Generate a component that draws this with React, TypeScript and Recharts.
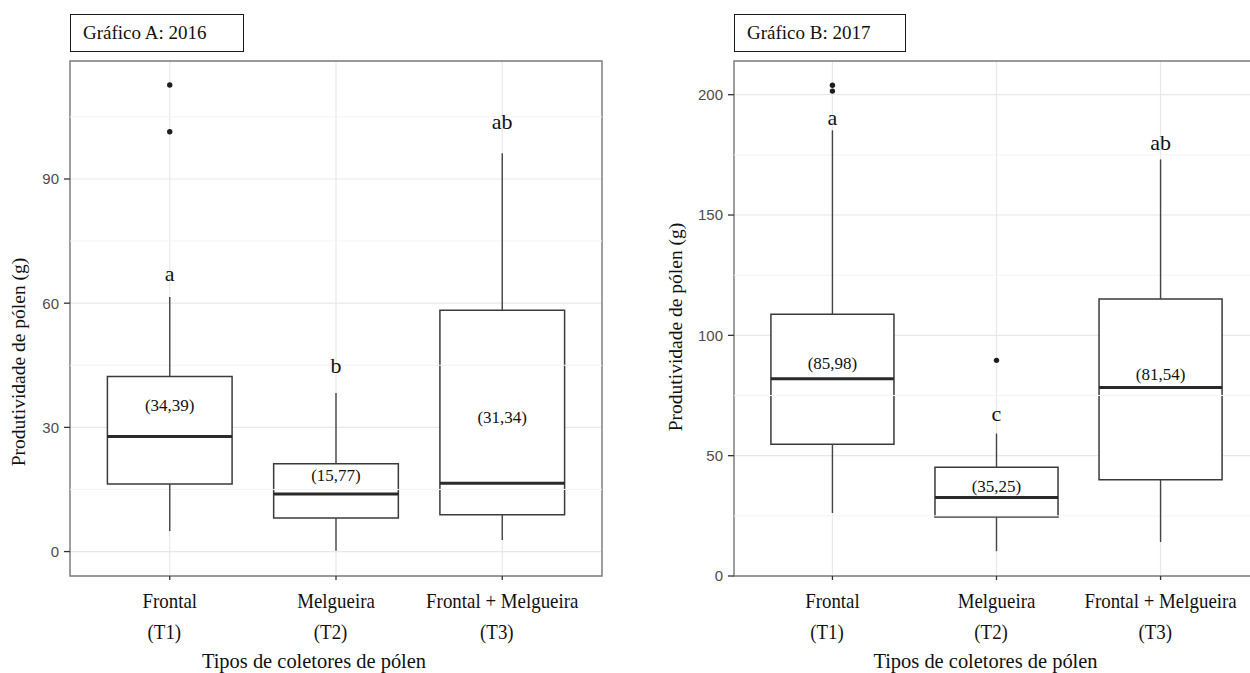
import React from "react";
import {
  ComposedChart,
  XAxis,
  YAxis,
  CartesianGrid,
  ReferenceArea,
  ReferenceLine,
  Scatter,
} from "recharts";

// ---------- shared categories ----------
const categories = ["Frontal", "Melgueira", "Frontal + Melgueira"];
const codes = ["(T1)", "(T2)", "(T3)"];
const catPos = [1, 2, 3];

// ---------- Gráfico A: 2016 ----------
const min2016 = [5.0, 0.2, 2.8];
const q1_2016 = [16.3, 8.1, 8.9];
const med2016 = [27.8, 13.9, 16.5];
const q3_2016 = [42.3, 21.2, 58.3];
const max2016 = [61.5, 38.3, 96.2];
const outCat2016 = [1, 1];
const outVal2016 = [112.7, 101.4];
const mean2016 = ["(34,39)", "(15,77)", "(31,34)"];
const meanY2016 = [35.2, 18.4, 32.5];
const letters2016 = ["a", "b", "ab"];
const letterY2016 = [67.1, 44.9, 103.8];
const ticks2016 = [0, 30, 60, 90];
const minor2016 = [15, 45, 75, 105];

// ---------- Gráfico B: 2017 ----------
const min2017 = [26.2, 10.3, 14.1];
const q1_2017 = [54.7, 24.5, 40.0];
const med2017 = [82.0, 32.6, 78.3];
const q3_2017 = [108.8, 45.2, 115.1];
const max2017 = [185.2, 59.2, 173.1];
const outCat2017 = [1, 1, 2];
const outVal2017 = [203.9, 201.5, 89.6];
const mean2017 = ["(85,98)", "(35,25)", "(81,54)"];
const meanY2017 = [88.2, 37.3, 83.7];
const letters2017 = ["a", "c", "ab"];
const letterY2017 = [190.4, 67.5, 180.3];
const ticks2017 = [0, 50, 100, 150, 200];
const minor2017 = [25, 75, 125, 175];

const SERIF = "'Liberation Serif', 'Times New Roman', serif";
const SANS = "'Liberation Sans', Arial, sans-serif";
const HALF = 0.375;

const XTick = (props: any) => {
  const { x, y, payload } = props;
  const i = Math.round(payload.value) - 1;
  return (
    <g transform={`translate(${x},${y})`}>
      <g transform="scale(0.9,1)">
        <text x={0} y={28} textAnchor="middle" fontFamily={SERIF} fontSize={21} fill="#111">
          {categories[i]}
        </text>
        <text x={-6} y={59} textAnchor="middle" fontFamily={SERIF} fontSize={21} fill="#111">
          {codes[i]}
        </text>
      </g>
    </g>
  );
};

const makeTextShape = (fontSize: number) => (p: any) => (
  <text
    x={p.cx}
    y={p.cy}
    textAnchor="middle"
    dominantBaseline="central"
    fontFamily={SERIF}
    fontSize={fontSize}
    fill="#111"
  >
    {p.payload.text}
  </text>
);

const dotShape = (p: any) => <circle cx={p.cx} cy={p.cy} r={2.7} fill="#1e1e1e" />;

type PanelProps = {
  left: number;
  width: number;
  yAxisWidth: number;
  rightMargin: number;
  domain: [number, number];
  ticks: number[];
  minor: number[];
  mins: number[];
  q1s: number[];
  meds: number[];
  q3s: number[];
  maxs: number[];
  outCat: number[];
  outVal: number[];
  means: string[];
  meanY: number[];
  letters: string[];
  letterY: number[];
  yLab: [number, number];
  xTitleDx: number;
  title: string;
  titleLeft: number;
  titleWidth: number;
};

function Panel(pr: PanelProps) {
  const outliers = pr.outCat.map((c, i) => ({ x: c, y: pr.outVal[i] }));
  const meanData = catPos.map((c, i) => ({ x: c, y: pr.meanY[i], text: pr.means[i] }));
  const letterData = catPos.map((c, i) => ({ x: c, y: pr.letterY[i], text: pr.letters[i] }));
  return (
    <>
      <div
        style={{
          position: "absolute",
          left: pr.titleLeft,
          top: 14,
          width: pr.titleWidth,
          height: 38,
          boxSizing: "border-box",
          border: "1.5px solid #1a1a1a",
          fontFamily: SERIF,
          fontSize: 19,
          lineHeight: "35px",
          paddingLeft: 12,
          color: "#111",
          background: "#fff",
          whiteSpace: "nowrap",
        }}
      >
        {pr.title}
      </div>
      <div style={{ position: "absolute", left: pr.left, top: 0 }}>
        <ComposedChart
          width={pr.width}
          height={673}
          margin={{ top: 61, right: pr.rightMargin, bottom: 0, left: 0 }}
        >
          <CartesianGrid stroke="#e8e8e8" strokeWidth={1.2} />
          {pr.minor.map((v) => (
            <ReferenceLine key={"m" + v} y={v} stroke="#f3f3f3" strokeWidth={1} />
          ))}
          <XAxis
            type="number"
            dataKey="x"
            domain={[0.4, 3.6]}
            ticks={catPos}
            allowDataOverflow
            height={97}
            axisLine={false}
            tickLine={{ stroke: "#333", strokeWidth: 1.3 }}
            tickSize={4}
            tickMargin={0}
            tick={<XTick />}
            label={{
              content: (p: any) => {
                const vb = p.viewBox;
                return (
                  <text
                    transform={`translate(${vb.x + vb.width / 2 + pr.xTitleDx},${vb.y + 92}) scale(0.93,1)`}
                    textAnchor="middle"
                    fontFamily={SERIF}
                    fontSize={22}
                    fill="#111"
                  >
                    Tipos de coletores de pólen
                  </text>
                );
              },
            }}
          />
          <YAxis
            type="number"
            dataKey="y"
            domain={pr.domain}
            ticks={pr.ticks}
            allowDataOverflow
            width={pr.yAxisWidth}
            axisLine={false}
            tickLine={{ stroke: "#333", strokeWidth: 1.3 }}
            tickSize={6}
            tickMargin={5}
            tick={{ fill: "#4d4d4d", fontSize: 15, fontFamily: SANS }}
            label={{
              content: (p: any) => {
                const vb = p.viewBox;
                return (
                  <text
                    transform={`translate(${vb.x + pr.yLab[0]},${vb.y + vb.height / 2 + pr.yLab[1]}) rotate(-90)`}
                    textAnchor="middle"
                    dominantBaseline="central"
                    fontFamily={SERIF}
                    fontSize={19.5}
                    fill="#111"
                  >
                    Produtividade de pólen (g)
                  </text>
                );
              },
            }}
          />
          {/* panel border */}
          <ReferenceArea
            x1={0.4}
            x2={3.6}
            y1={pr.domain[0]}
            y2={pr.domain[1]}
            fill="none"
            fillOpacity={0}
            stroke="#7c7c7c"
            strokeWidth={1.4}
            ifOverflow="visible"
          />
          {/* whiskers */}
          {catPos.map((c, i) => (
            <ReferenceLine
              key={"wu" + c}
              segment={[
                { x: c, y: pr.q3s[i] },
                { x: c, y: pr.maxs[i] },
              ]}
              stroke="#444"
              strokeWidth={1.4}
            />
          ))}
          {catPos.map((c, i) => (
            <ReferenceLine
              key={"wl" + c}
              segment={[
                { x: c, y: pr.mins[i] },
                { x: c, y: pr.q1s[i] },
              ]}
              stroke="#444"
              strokeWidth={1.4}
            />
          ))}
          {/* boxes */}
          {catPos.map((c, i) => (
            <ReferenceArea
              key={"b" + c}
              x1={c - HALF}
              x2={c + HALF}
              y1={pr.q1s[i]}
              y2={pr.q3s[i]}
              fill="#ffffff"
              fillOpacity={1}
              stroke="#3a3a3a"
              strokeWidth={1.5}
            />
          ))}
          {/* medians */}
          {catPos.map((c, i) => (
            <ReferenceLine
              key={"md" + c}
              segment={[
                { x: c - HALF, y: pr.meds[i] },
                { x: c + HALF, y: pr.meds[i] },
              ]}
              stroke="#2a2a2a"
              strokeWidth={3}
            />
          ))}
          <Scatter data={outliers} dataKey="y" shape={dotShape} isAnimationActive={false} />
          <Scatter data={meanData} dataKey="y" shape={makeTextShape(17)} isAnimationActive={false} />
          <Scatter data={letterData} dataKey="y" shape={makeTextShape(22)} isAnimationActive={false} />
        </ComposedChart>
      </div>
    </>
  );
}

export default function App() {
  return (
    <div
      style={{
        position: "fixed",
        left: 0,
        top: 0,
        width: 1250,
        height: 673,
        overflow: "hidden",
        background: "#fff",
      }}
    >
      <Panel
        left={0}
        width={620}
        yAxisWidth={70}
        rightMargin={18}
        domain={[-5.9, 118.5]}
        ticks={ticks2016}
        minor={minor2016}
        mins={min2016}
        q1s={q1_2016}
        meds={med2016}
        q3s={q3_2016}
        maxs={max2016}
        outCat={outCat2016}
        outVal={outVal2016}
        means={mean2016}
        meanY={meanY2016}
        letters={letters2016}
        letterY={letterY2016}
        yLab={[18, 43.5]}
        xTitleDx={-22}
        title="Gráfico A: 2016"
        titleLeft={70}
        titleWidth={174}
      />
      <Panel
        left={630}
        width={639}
        yAxisWidth={104}
        rightMargin={10}
        domain={[0, 214]}
        ticks={ticks2017}
        minor={minor2017}
        mins={min2017}
        q1s={q1_2017}
        meds={med2017}
        q3s={q3_2017}
        maxs={max2017}
        outCat={outCat2017}
        outVal={outVal2017}
        means={mean2017}
        meanY={meanY2017}
        letters={letters2017}
        letterY={letterY2017}
        yLab={[45, 8.5]}
        xTitleDx={-11}
        title="Gráfico B: 2017"
        titleLeft={734}
        titleWidth={172}
      />
    </div>
  );
}
